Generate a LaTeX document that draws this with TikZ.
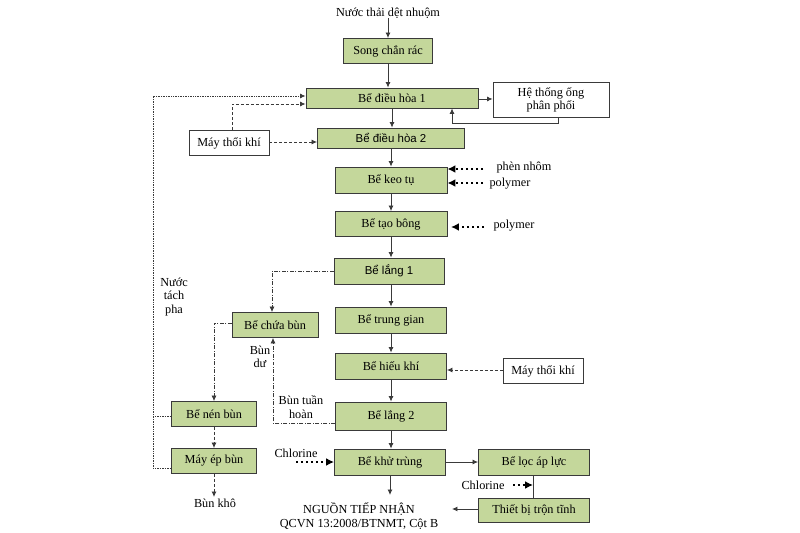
\documentclass[tikz,border=0pt]{standalone}
\usepackage{fontspec}
\setmainfont{Liberation Serif}
\newfontfamily\arialf{Liberation Sans}
\usetikzlibrary{arrows.meta}
\definecolor{boxg}{HTML}{C4D79B}
\definecolor{lineg}{HTML}{3A3A3A}
\begin{document}
\begin{tikzpicture}[x=1bp,y=-1bp,
  every node/.style={font=\fontsize{12.3}{14}\selectfont, inner sep=0pt},
  gbox/.style={draw=lineg, line width=0.9pt, fill=boxg},
  wbox/.style={draw=lineg, line width=0.9pt, fill=white},
  lbl/.style={align=center, font=\fontsize{12.3}{13.5}\selectfont},
  sansf/.style={font=\arialf\fontsize{11.5}{14}\selectfont},
  flow/.style={draw=lineg, line width=0.8pt, -{Latex[length=5.5pt,width=5pt]}},
  plain/.style={draw=lineg, line width=0.8pt},
  dsh/.style={draw=lineg, line width=0.8pt, dash pattern=on 3pt off 2pt},
  dshd/.style={draw=lineg, line width=0.7pt, dash pattern=on 4pt off 1.5pt on 1pt off 1.5pt},
  dott/.style={draw=lineg, line width=0.8pt, dash pattern=on 1pt off 0.7pt},
  chem/.style={draw=black, line width=2.2pt, dash pattern=on 2.5pt off 2.5pt, -{Latex[length=8pt,width=8pt]}},
  tipa/.style={-{Latex[length=5.5pt,width=5pt]}}
]
\useasboundingbox (0,0) rectangle (800,533);
\fill[white] (0,0) rectangle (800,533);

% nodes
\node (src) at (388,13) {Nước thải dệt nhuộm};
\node[gbox, minimum width=89bp, minimum height=25bp] (song) at (388,51) {Song chắn rác};
\node[gbox, minimum width=172bp, minimum height=20bp] (dh1) at (392,98) {Bể điều hòa 1};
\node[wbox, minimum width=116bp, minimum height=35bp, align=center] (ht) at (551,100) {Hệ thống ống\\[-1pt]phân phối};
\node[gbox, minimum width=147bp, minimum height=20bp, sansf] (dh2) at (391,138) {Bể điều hòa 2};
\node[wbox, minimum width=80bp, minimum height=25bp] (mtk1) at (229,143) {Máy thổi khí};
\node[gbox, minimum width=112bp, minimum height=26bp] (keo) at (391,180) {Bể keo tụ};
\node[gbox, minimum width=112bp, minimum height=25bp] (taob) at (391,224) {Bể tạo bông};
\node[gbox, minimum width=110bp, minimum height=26bp, sansf] (l1) at (389,271) {Bể lắng 1};
\node[gbox, minimum width=86bp, minimum height=25bp] (chua) at (275,325) {Bể chứa bùn};
\node[gbox, minimum width=111bp, minimum height=26bp] (tg) at (391,320) {Bể trung gian};
\node[gbox, minimum width=111bp, minimum height=26bp] (hk) at (391,366) {Bể hiếu khí};
\node[wbox, minimum width=80bp, minimum height=25bp] (mtk2) at (543,371) {Máy thổi khí};
\node[gbox, minimum width=85bp, minimum height=25bp] (nen) at (214,414) {Bể nén bùn};
\node[gbox, minimum width=111bp, minimum height=28bp] (l2) at (391,416) {Bể lắng 2};
\node[gbox, minimum width=85bp, minimum height=25bp] (ep) at (214,461) {Máy ép bùn};
\node[gbox, minimum width=111bp, minimum height=26bp] (kt) at (390,462) {Bể khử trùng};
\node[gbox, minimum width=111bp, minimum height=26bp] (loc) at (534,462) {Bể lọc áp lực};
\node[gbox, minimum width=111bp, minimum height=24bp] (tron) at (534,510) {Thiết bị trộn tĩnh};
\node[lbl] (out) at (359,516) {NGUỒN TIẾP NHẬN\\QCVN 13:2008/BTNMT, Cột B};
\node (bk) at (215,503) {Bùn khô};
\node[lbl] (bd) at (260,357) {Bùn\\dư};
\node[lbl] (bth) at (301,407) {Bùn tuần\\hoàn};
\node[lbl] (ntp) at (174,297) {Nước\\tách\\pha};
\node (pn) at (524,168) {phèn nhôm};
\node (pl1) at (510,184) {polymer};
\node (pl2) at (514,226) {polymer};
\node (cl1) at (296,453) {Chlorine};
\node (cl2) at (483,485) {Chlorine};

% coordinates
\coordinate (pnS) at (483,169);
\coordinate (pl1S) at (483,183);
\coordinate (pl2S) at (484,227);
\coordinate (pl2E) at (451,227);
\coordinate (cl1S) at (296,462);
\coordinate (cl2S) at (513,485);
\coordinate (cl2E) at (533,485);
\coordinate (bkE) at (214,497);
\coordinate (outE) at (390,495);
\coordinate (tronE) at (452,509);

% main flow
\draw[flow] (src) -- (song);
\draw[flow] (song) -- (song |- dh1.north);
\draw[flow] (dh1.south -| 392,0) -- (392,0 |- dh2.north);
\draw[flow] (dh1.east |- 0,99) -- (ht.west |- 0,99);
\draw[flow] (ht.south -| 558,0) -- (558,123) -- (452,123) -- (452,0 |- dh1.south);
\draw[flow] (dh2) -- (dh2 |- keo.north);
\draw[flow] (keo) -- (keo |- taob.north);
\draw[flow] (taob) -- (taob |- l1.north);
\draw[flow] (l1.south -| 391,0) -- (391,0 |- tg.north);
\draw[flow] (tg) -- (tg |- hk.north);
\draw[flow] (hk) -- (hk |- l2.north);
\draw[flow] (l2) -- (l2 |- kt.north);
\draw[flow] (kt) -- (outE);
\draw[flow] (kt) -- (loc);
\draw[plain] (loc.south -| 533,0) -- (533,0 |- tron.north);
\draw[flow] (tron.west |- tronE) -- (tronE);

% air
\draw[dsh, tipa] (mtk1.east |- 0,142) -- (dh2.west |- 0,142);
\draw[dsh, tipa] (mtk1.north -| 232,0) -- (232,104) -- (dh1.west |- 0,104);
\draw[dsh, tipa] (mtk2.west |- 0,370) -- (hk.east |- 0,370);

% return water (dotted)
\draw[dott, tipa] (ep.west |- 0,468) -- (153,468) -- (153,96) -- (dh1.west |- 0,96);
\draw[dott] (nen.west |- 0,416) -- (153,416);

% sludge lines
\draw[dshd, tipa] (l1.west) -- (272,271) -- (272,0 |- chua.north);
\draw[dshd, tipa] (chua.west |- 0,323) -- (214,323) -- (214,0 |- nen.north);
\draw[dshd, tipa] (l2.west |- 0,423) -- (273,423) -- (273,0 |- chua.south);
\draw[dsh, tipa] (nen) -- (nen |- ep.north);
\draw[dsh, tipa] (ep.south) -- (bkE);

% chemicals
\draw[chem] (pnS) -- (keo.east |- pnS);
\draw[chem] (pl1S) -- (keo.east |- pl1S);
\draw[chem] (pl2S) -- (pl2E);
\draw[chem] (cl1S) -- (kt.west |- cl1S);
\draw[chem] (cl2S) -- (cl2E);
\end{tikzpicture}
\end{document}
